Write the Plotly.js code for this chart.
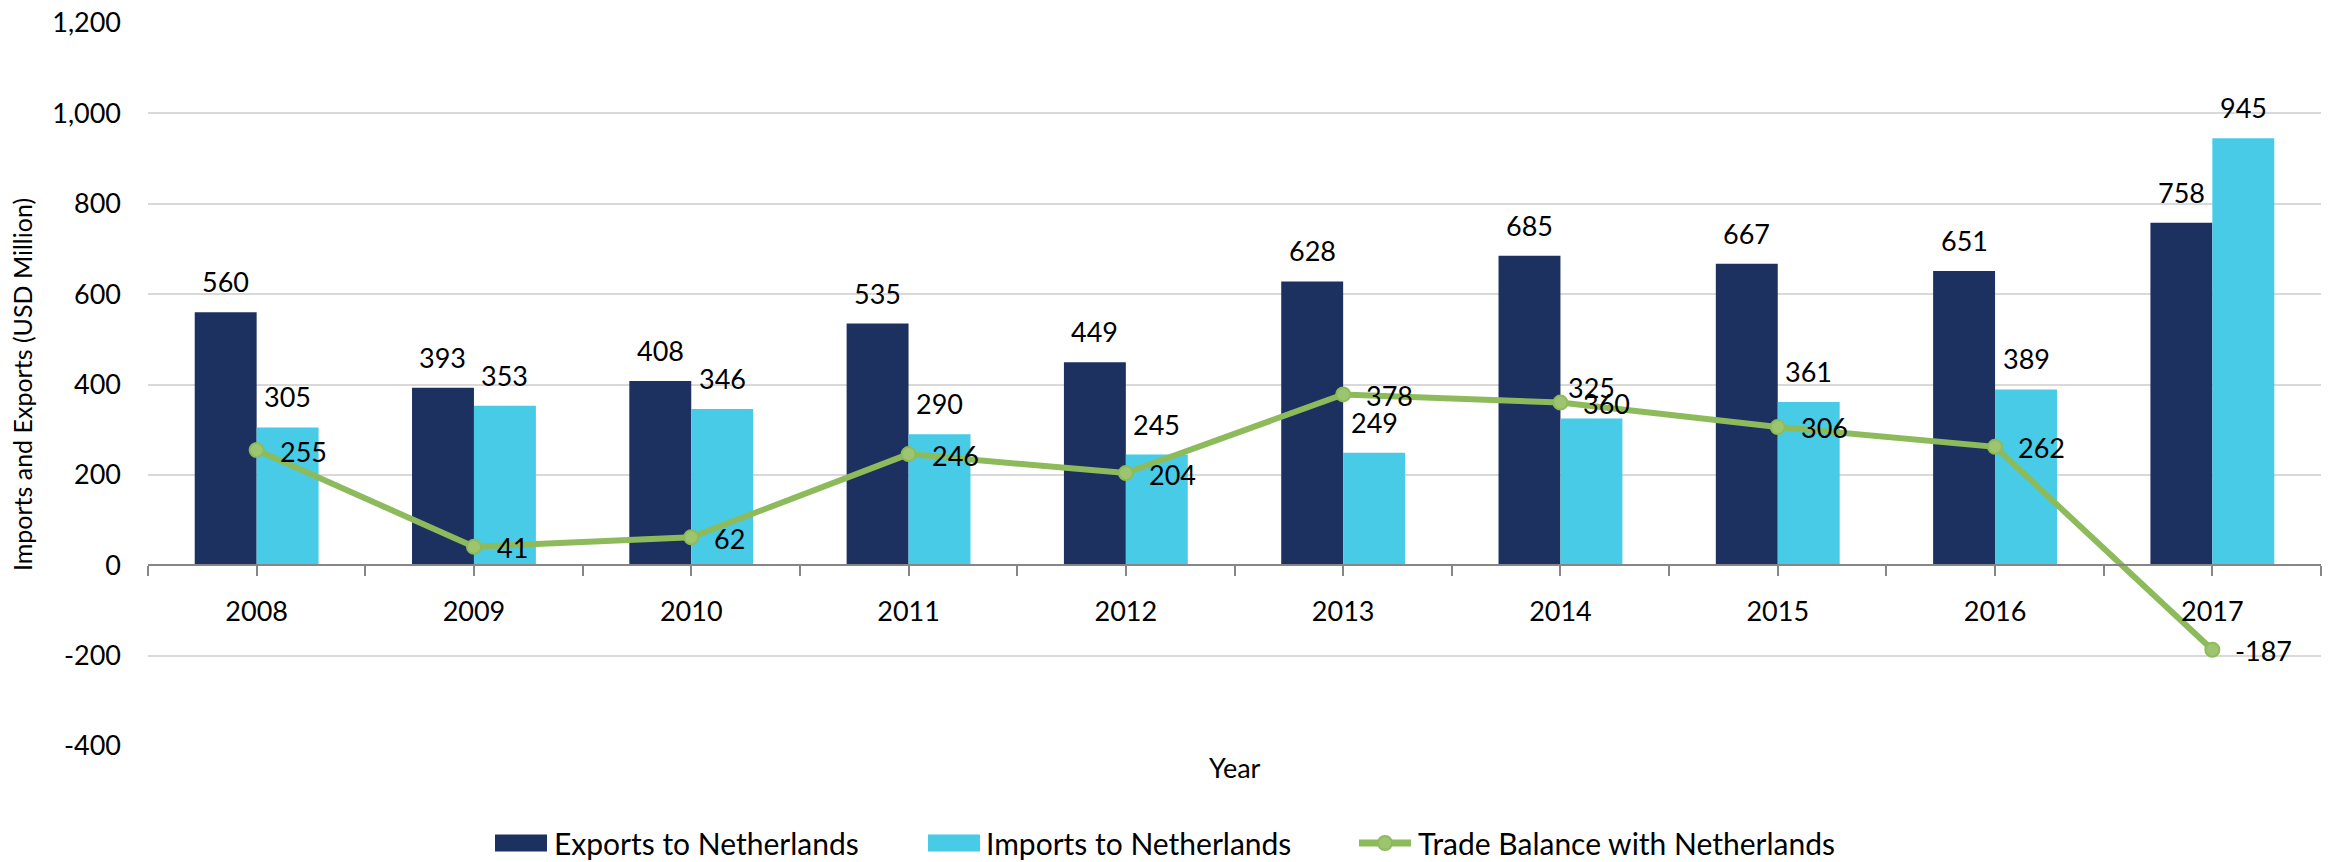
<!DOCTYPE html>
<html>
<head>
<meta charset="utf-8">
<script src="https://cdn.plot.ly/plotly-3.0.1.min.js"></script>
<style>
  html, body { margin: 0; padding: 0; background: #ffffff; }
  #chart { width: 2341px; height: 862px; }
</style>
</head>
<body>
<div id="chart"></div>
<script>
// ---- Data ----
const years = [2008, 2009, 2010, 2011, 2012, 2013, 2014, 2015, 2016, 2017];
const exportsToNL = [560, 393, 408, 535, 449, 628, 685, 667, 651, 758];
const importsToNL = [305, 353, 346, 290, 245, 249, 325, 361, 389, 945];
const tradeBalance = [255, 41, 62, 246, 204, 378, 360, 306, 262, -187];
const seriesNames = ["Exports to Netherlands", "Imports to Netherlands", "Trade Balance with Netherlands"];
const yTickVals = [-400, -200, 0, 200, 400, 600, 800, 1000, 1200];
const yTickText = ["-400", "-200", "0", "200", "400", "600", "800", "1,000", "1,200"];

// ---- Styles ----
const W = 2341, H = 862;
const M = { l: 148, r: 20, t: 23, b: 116 };
const FONT = "Lato, 'Open Sans', sans-serif";
const FS = 27;
const LEG_FS = 30;
const C_EXP = "#1C3160", C_IMP = "#47CBE6", C_BAL = "#8DBB5B", C_BAL_FILL = "#9DC56F";
const BARGAP = 0.43;
const barHalf = (1 - BARGAP) / 4;

// x ticks: boundaries and centers
const xTickVals = [], xTickText = [];
years.forEach(y => { xTickVals.push(y - 0.5); xTickText.push(""); xTickVals.push(y); xTickText.push(String(y)); });
xTickVals.push(years[years.length - 1] + 0.5); xTickText.push("");
const xRange = [years[0] - 0.5, years[years.length - 1] + 0.5];

const plotW = W - M.l - M.r, plotH = H - M.t - M.b;
const px = v => (v - M.l) / plotW;
const py = v => (H - M.b - v) / plotH;

const traces = [
  { type: "bar", name: seriesNames[0], x: years, y: exportsToNL, marker: { color: C_EXP }, hoverinfo: "x+y" },
  { type: "bar", name: seriesNames[1], x: years, y: importsToNL, marker: { color: C_IMP }, hoverinfo: "x+y" },
  { type: "scatter", mode: "lines+markers", name: seriesNames[2], x: years, y: tradeBalance,
    line: { color: C_BAL, width: 6 },
    marker: { size: 14, color: C_BAL_FILL, line: { color: C_BAL, width: 2 } },
    cliponaxis: false }
];

const annotations = [];
const labelFont = { family: FONT, size: FS, color: "#000" };
years.forEach((yr, i) => {
  annotations.push({ x: yr - barHalf, y: exportsToNL[i], xref: "x", yref: "y", text: String(exportsToNL[i]),
    showarrow: false, xanchor: "center", yanchor: "bottom", yshift: 12, font: labelFont });
  annotations.push({ x: yr + barHalf, y: importsToNL[i], xref: "x", yref: "y", text: String(importsToNL[i]),
    showarrow: false, xanchor: "center", yanchor: "bottom", yshift: 12, font: labelFont });
  annotations.push({ x: yr, y: tradeBalance[i], xref: "x", yref: "y", text: String(tradeBalance[i]),
    showarrow: false, xanchor: "left", yanchor: "middle", xshift: 21, yshift: -1, font: labelFont });
});

// x-axis title
annotations.push({ x: 0.5, y: py(768), xref: "paper", yref: "paper", text: "Year", showarrow: false,
  xanchor: "center", yanchor: "middle", font: { family: FONT, size: FS, color: "#000" } });

// custom legend
const legY = py(843);
const shapes = [
  { type: "rect", xref: "paper", yref: "paper", x0: px(495), x1: px(547), y0: py(851.5), y1: py(834.5), fillcolor: C_EXP, line: { width: 0 } },
  { type: "rect", xref: "paper", yref: "paper", x0: px(928), x1: px(980), y0: py(851.5), y1: py(834.5), fillcolor: C_IMP, line: { width: 0 } },
  { type: "line", xref: "paper", yref: "paper", x0: px(1359), x1: px(1411), y0: legY, y1: legY, line: { color: C_BAL, width: 7 } },
  { type: "circle", xref: "paper", yref: "paper", x0: px(1378), x1: px(1392), y0: py(850), y1: py(836), fillcolor: C_BAL_FILL, line: { color: C_BAL, width: 2 } }
];
[[552, 0], [984, 1], [1416, 2]].forEach(([xp, k]) => {
  annotations.push({ x: px(xp), y: legY, xref: "paper", yref: "paper", text: seriesNames[k], showarrow: false,
    xanchor: "left", yanchor: "middle", font: { family: FONT, size: LEG_FS, color: "#000" } });
});

const layout = {
  width: W, height: H,
  margin: M,
  paper_bgcolor: "#fff", plot_bgcolor: "#fff",
  font: { family: FONT, size: FS, color: "#000" },
  showlegend: false,
  barmode: "group", bargap: BARGAP, bargroupgap: 0,
  xaxis: {
    type: "linear", range: xRange, anchor: "free", position: 0.25,
    showline: true, linecolor: "#868686", linewidth: 2,
    ticks: "outside", ticklen: 10, tickwidth: 2, tickcolor: "#868686",
    tickmode: "array", tickvals: xTickVals, ticktext: xTickText,
    showgrid: false, zeroline: false, ticklabelstandoff: 12,
    tickfont: { family: FONT, size: FS, color: "#000" }
  },
  xaxis2: {
    type: "linear", range: xRange, overlaying: "x", anchor: "free", position: 0.25,
    showline: false, ticks: "inside", ticklen: 10, tickwidth: 2, tickcolor: "#868686",
    tickmode: "array", tickvals: xTickVals, showticklabels: false, showgrid: false, zeroline: false
  },
  yaxis: {
    range: [-400, 1200], tickmode: "array", tickvals: yTickVals, ticktext: yTickText,
    showgrid: true, gridcolor: "#D9D9D9", gridwidth: 2, zeroline: false, showline: false,
    ticks: "", ticklabelstandoff: 26,
    tickfont: { family: FONT, size: FS, color: "#000" },
    title: { text: "Imports and Exports (USD Million)", standoff: 12, font: { family: FONT, size: 25, color: "#000" } }
  },
  annotations: annotations,
  shapes: shapes
};

Plotly.newPlot("chart", traces, layout, { displayModeBar: false, staticPlot: true });
</script>
</body>
</html>
